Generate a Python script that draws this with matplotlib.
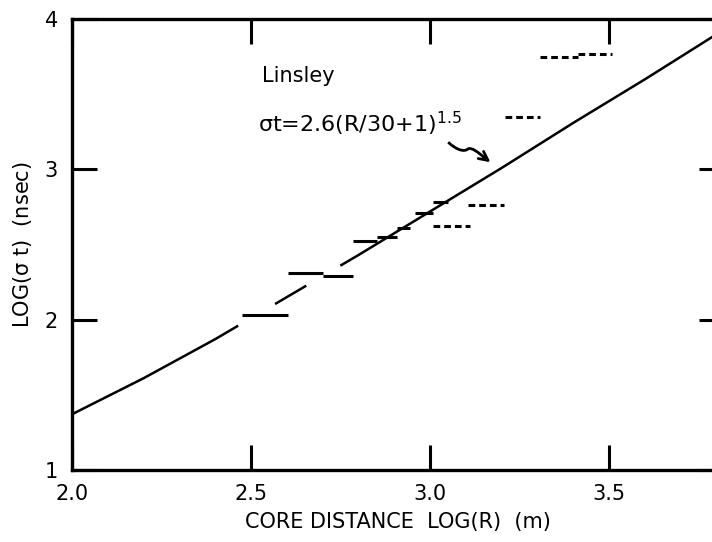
import numpy as np
import matplotlib.pyplot as plt
from matplotlib.path import Path
from matplotlib.patches import PathPatch

# horizontal steps drawn solid: start, end, level (log sigma_t)
solid_x0 = [2.475, 2.603, 2.701, 2.785, 2.852, 2.908, 2.958, 3.008]
solid_x1 = [2.603, 2.701, 2.785, 2.852, 2.908, 2.944, 3.008, 3.050]
solid_y = [2.03, 2.31, 2.29, 2.52, 2.55, 2.61, 2.71, 2.78]

# horizontal steps drawn dashed
dash_x0 = [3.008, 3.106, 3.209, 3.307, 3.411]
dash_x1 = [3.112, 3.207, 3.307, 3.411, 3.508]
dash_y = [2.62, 2.76, 3.35, 3.75, 3.77]

# Linsley curve
line_x = [2.0, 2.2, 2.4, 2.6, 2.8, 3.0, 3.2, 3.4, 3.6, 3.8, 3.85]
line_y = [1.37, 1.61, 1.87, 2.15, 2.43, 2.72, 3.01, 3.31, 3.60, 3.90, 3.97]
line_gaps = [(2.464, 2.567), (2.654, 2.749)]

plt.rcParams['font.family'] = ['DejaVu Sans']
plt.rcParams['mathtext.default'] = 'regular'

fig = plt.figure(figsize=(7.12, 5.42), dpi=100)
ax = fig.add_axes([0.101, 0.133, 0.916, 0.832])

# curve, broken where the steps cross it
edges = [line_x[0]] + [g for gap in line_gaps for g in gap] + [line_x[-1]]
for a, b in zip(edges[0::2], edges[1::2]):
    xs = [a] + [v for v in line_x if a < v < b] + [b]
    ax.plot(xs, np.interp(xs, line_x, line_y), color='black', lw=1.8,
            solid_capstyle='butt')

ax.hlines(solid_y, solid_x0, solid_x1, color='black', lw=2.2)
ax.hlines(dash_y, dash_x0, dash_x1, color='black', lw=2.2,
          linestyles=(0, (2.2, 1.3)))

ax.text(2.53, 3.58, 'Linsley', fontsize=15)
ax.text(2.52, 3.25, '$\\sigma$t=2.6(R/30+1)$^{1.5}$', fontsize=16)

# wavy pointer to the curve
wave = Path([(3.050, 3.180), (3.075, 3.125), (3.095, 3.115), (3.105, 3.135),
             (3.115, 3.150), (3.135, 3.110), (3.150, 3.080)],
            [Path.MOVETO, Path.CURVE4, Path.CURVE4, Path.CURVE4,
             Path.CURVE4, Path.CURVE4, Path.CURVE4])
ax.add_patch(PathPatch(wave, facecolor='none', edgecolor='black', lw=2.0))
ax.annotate('', xy=(3.168, 3.047), xytext=(3.148, 3.083),
            arrowprops=dict(arrowstyle='->', color='black', lw=2.0,
                            mutation_scale=16, shrinkA=0, shrinkB=0))

ax.set_xlim(2.0, 3.82)
ax.set_ylim(1, 4)
ax.set_xticks([2.0, 2.5, 3.0, 3.5])
ax.set_xticklabels(['2.0', '2.5', '3.0', '3.5'])
ax.set_yticks([1, 2, 3, 4])
ax.set_yticklabels(['1', '2', '3', '4'])
ax.tick_params(direction='in', length=18, width=2.2, labelsize=15,
               top=True, right=True, pad=10)
for s in ax.spines.values():
    s.set_linewidth(2.4)

ax.set_xlabel('CORE DISTANCE  LOG(R)  (m)', fontsize=15, labelpad=6)
ax.set_ylabel('LOG($\\sigma$ t)  (nsec)', fontsize=15, labelpad=8)

fig.savefig('out.png', dpi=100)
